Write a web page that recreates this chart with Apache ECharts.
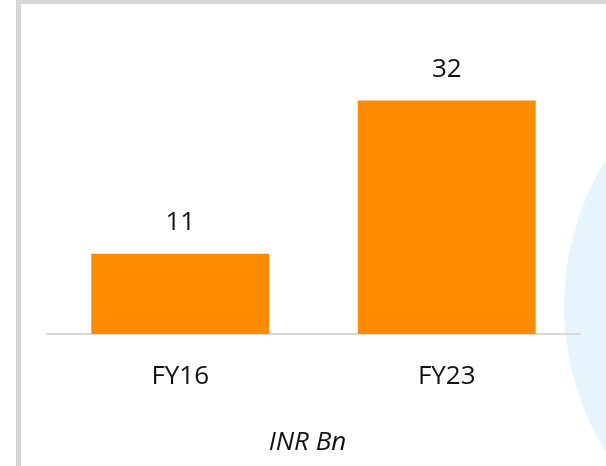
<!DOCTYPE html>
<html>
<head>
<meta charset="utf-8">
<script src="https://cdn.jsdelivr.net/npm/echarts@6/dist/echarts.min.js"></script>
<style>
  html, body { margin: 0; padding: 0; background: #fff; }
  #chart { width: 606px; height: 466px; }
</style>
</head>
<body>
<div id="chart"></div>
<script>
const years = ['FY16', 'FY23']
const values = [11, 32]
const unitLabel = 'INR Bn'

const chart = echarts.init(document.getElementById('chart'))

const option = {
  animation: false,
  backgroundColor: '#fff',
  textStyle: { fontFamily: 'Open Sans' },
  graphic: [
    // light blue circle peeking in on the right
    { type: 'circle', z: -10, silent: true, shape: { cx: 840, cy: 306, r: 276 }, style: { fill: '#E6F4FB' } },
    // slide frame
    { type: 'rect', z: -5, silent: true, shape: { x: 16, y: 0, width: 590, height: 4 }, style: { fill: '#D6D6D6' } },
    { type: 'rect', z: -5, silent: true, shape: { x: 16, y: 0, width: 5, height: 466 }, style: { fill: '#D6D6D6' } }
  ],
  grid: { left: 47, right: 26, top: 42, bottom: 132 },
  xAxis: {
    type: 'category',
    data: years,
    axisLine: { lineStyle: { color: '#D9D9D9', width: 2 } },
    axisTick: { show: false },
    axisLabel: { color: '#111', fontSize: 26, margin: 30 },
    name: unitLabel,
    nameLocation: 'middle',
    nameGap: 96,
    nameTextStyle: { color: '#111', fontSize: 26, fontStyle: 'italic', padding: [0, 12, 0, 0] }
  },
  yAxis: {
    type: 'value',
    min: 0,
    max: 40,
    show: false,
    splitLine: { show: false }
  },
  series: [
    {
      type: 'bar',
      data: values,
      barWidth: 178,
      itemStyle: { color: '#FF8C00' },
      label: {
        show: true,
        position: 'top',
        distance: 18,
        color: '#111',
        fontSize: 26
      }
    }
  ]
}

chart.setOption(option)
</script>
</body>
</html>
